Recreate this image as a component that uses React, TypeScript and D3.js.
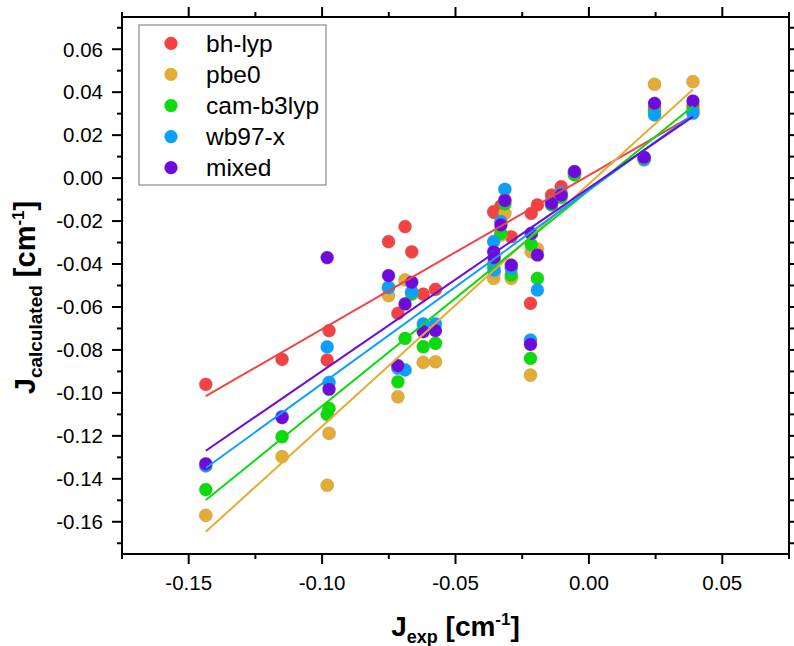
import React from "react";
import * as d3 from "d3";

const jExp = [
  -0.1436, -0.115, -0.0981, -0.0974, -0.0751, -0.0716, -0.0689, -0.0664, -0.0621, -0.0575,
  -0.0357, -0.0355, -0.033, -0.0315, -0.0291, -0.0219, -0.0216, -0.0193, -0.014, -0.0104,
  -0.0054, 0.0207, 0.0246, 0.039,
];

const bhLyp = [
  -0.096, -0.0844, -0.0847, -0.071, -0.0296, -0.063, -0.0226, -0.0343, -0.054, -0.0518,
  -0.0156, -0.016, -0.013, -0.01, -0.0273, -0.0583, -0.0164, -0.0125, -0.0079, -0.004,
  0.002, 0.009, 0.0325, 0.0336,
];
const pbe0 = [
  -0.157, -0.1297, -0.143, -0.1188, -0.0547, -0.1018, -0.0474, -0.053, -0.0858, -0.0855,
  -0.0467, -0.044, -0.0265, -0.0164, -0.0467, -0.0917, -0.0343, -0.033, -0.012, -0.008,
  0.002, 0.009, 0.0437, 0.0449,
];
const camB3lyp = [
  -0.145, -0.1204, -0.11, -0.1072, -0.0508, -0.0948, -0.0746, -0.054, -0.0785, -0.0769,
  -0.0414, -0.039, -0.0257, -0.012, -0.0451, -0.0839, -0.031, -0.0467, -0.0125, -0.009,
  0.0015, 0.0085, 0.031, 0.0317,
];
const wb97x = [
  -0.134, -0.111, -0.0786, -0.0951, -0.051, -0.0885, -0.0893, -0.0529, -0.0679, -0.0679,
  -0.0296, -0.0428, -0.0203, -0.0052, -0.042, -0.0754, -0.026, -0.0521, -0.011, -0.007,
  0.003, 0.009, 0.0294, 0.0302,
];
const mixed = [
  -0.133, -0.1115, -0.037, -0.0983, -0.0454, -0.0873, -0.0586, -0.0485, -0.0715, -0.071,
  -0.0343, -0.037, -0.0218, -0.0105, -0.0405, -0.0774, -0.0257, -0.0358, -0.0117, -0.0079,
  0.003, 0.0097, 0.0348, 0.0359,
];

const seriesNames = ["bh-lyp", "pbe0", "cam-b3lyp", "wb97-x", "mixed"];
const seriesValues = [bhLyp, pbe0, camB3lyp, wb97x, mixed];
const seriesColors = ["#f44242", "#e4ac34", "#0adc0a", "#0aa0ff", "#6e0adc"];
// linear fits
const fitSlopes = [0.716, 1.128, 1.004, 0.901, 0.852];
const fitIntercepts = [0.0013, -0.0027, -0.0057, -0.0056, -0.0046];

const xTicks = [-0.15, -0.1, -0.05, 0.0, 0.05];
const xMinor = [-0.175, -0.125, -0.075, -0.025, 0.025, 0.075];
const yTicks = [-0.16, -0.14, -0.12, -0.1, -0.08, -0.06, -0.04, -0.02, 0.0, 0.02, 0.04, 0.06];
const yMinor = [-0.17, -0.15, -0.13, -0.11, -0.09, -0.07, -0.05, -0.03, -0.01, 0.01, 0.03, 0.05, 0.07];

const W = 794;
const H = 646;
const L = 122, R = 789, T = 17, B = 554;

export default function App() {
  const x = d3.scaleLinear().domain([-0.175, 0.075]).range([L, R]);
  const y = d3.scaleLinear().domain([-0.175, 0.075]).range([B, T]);
  const f2 = d3.format(".2f");
  const fmt = (v: number) => f2(v).replace("\u2212", "-");
  const xLo = d3.min(jExp) as number;
  const xHi = d3.max(jExp) as number;
  const line = d3.line<number>().x((d) => x(d[0])).y((d) => y(d[1]));
  const font = "'Liberation Sans', Arial, sans-serif";
  const major = 10, minor = 5;

  return (
    <div style={{ position: "absolute", left: 0, top: 0 }}>
      <svg width={W} height={H} style={{ display: "block", background: "#fff" }} fontFamily={font}>
        {/* points */}
        {seriesValues.map((vals, si) => (
          <g key={"p" + si}>
            {vals.map((v, i) => (
              <circle key={i} cx={x(jExp[i])} cy={y(v)} r={6.6} fill={seriesColors[si]}
                stroke="#8a8a8a" strokeOpacity={0.35} strokeWidth={0.8} />
            ))}
          </g>
        ))}
        {/* fit lines */}
        {seriesValues.map((_, si) => (
          <path key={"l" + si}
            d={line([[xLo, fitSlopes[si] * xLo + fitIntercepts[si]], [xHi, fitSlopes[si] * xHi + fitIntercepts[si]]] as any) || ""}
            stroke={seriesColors[si]} strokeWidth={2} fill="none" />
        ))}
        {/* frame */}
        <rect x={L} y={T} width={R - L} height={B - T} fill="none" stroke="#000" strokeWidth={2} />
        {/* x ticks bottom & top */}
        {xTicks.map((t) => (
          <g key={"xt" + t}>
            <line x1={x(t)} x2={x(t)} y1={B} y2={B + major} stroke="#000" strokeWidth={2} />
            <line x1={x(t)} x2={x(t)} y1={T} y2={T - major} stroke="#000" strokeWidth={2} />
            <text x={x(t)} y={590} textAnchor="middle" fontSize={20.5} fill="#000">{fmt(t)}</text>
          </g>
        ))}
        {xMinor.map((t) => (
          <g key={"xm" + t}>
            <line x1={x(t)} x2={x(t)} y1={B} y2={B + minor} stroke="#000" strokeWidth={2} />
            <line x1={x(t)} x2={x(t)} y1={T} y2={T - minor} stroke="#000" strokeWidth={2} />
          </g>
        ))}
        {/* y ticks left & right */}
        {yTicks.map((t) => (
          <g key={"yt" + t}>
            <line x1={L} x2={L - major} y1={y(t)} y2={y(t)} stroke="#000" strokeWidth={2} />
            <line x1={R} x2={R + major} y1={y(t)} y2={y(t)} stroke="#000" strokeWidth={2} />
            <text x={103} y={y(t) + 7.3} textAnchor="end" fontSize={20.5} fill="#000">{fmt(t)}</text>
          </g>
        ))}
        {yMinor.map((t) => (
          <g key={"ym" + t}>
            <line x1={L} x2={L - minor} y1={y(t)} y2={y(t)} stroke="#000" strokeWidth={2} />
            <line x1={R} x2={R + minor} y1={y(t)} y2={y(t)} stroke="#000" strokeWidth={2} />
          </g>
        ))}
        {/* legend */}
        <rect x={139} y={25} width={187} height={160} fill="#fff" stroke="#8a8a8a" strokeWidth={1.2} />
        {seriesNames.map((n, i) => (
          <g key={"lg" + i}>
            <circle cx={171} cy={43.3 + i * 31.1} r={6.6} fill={seriesColors[i]} />
            <text x={206} y={43.3 + i * 31.1 + 8.3} fontSize={24.5} fill="#000">{n}</text>
          </g>
        ))}
        {/* x title */}
        <text x={(L + R) / 2} y={636} textAnchor="middle" fontWeight="bold" fontSize={28} fill="#000">
          J<tspan fontSize={18} dy={7}>exp</tspan>
          <tspan dy={-7}> [cm</tspan>
          <tspan fontSize={17} dy={-11}>-1</tspan>
          <tspan dy={11}>]</tspan>
        </text>
        {/* y title */}
        <text transform={`translate(35,${(T + B) / 2 + 12}) rotate(-90)`} textAnchor="middle" fontWeight="bold" fontSize={29} fill="#000">
          J<tspan fontSize={19} dy={7}>calculated</tspan>
          <tspan dy={-7}> [cm</tspan>
          <tspan fontSize={17} dy={-11}>-1</tspan>
          <tspan dy={11}>]</tspan>
        </text>
      </svg>
    </div>
  );
}
